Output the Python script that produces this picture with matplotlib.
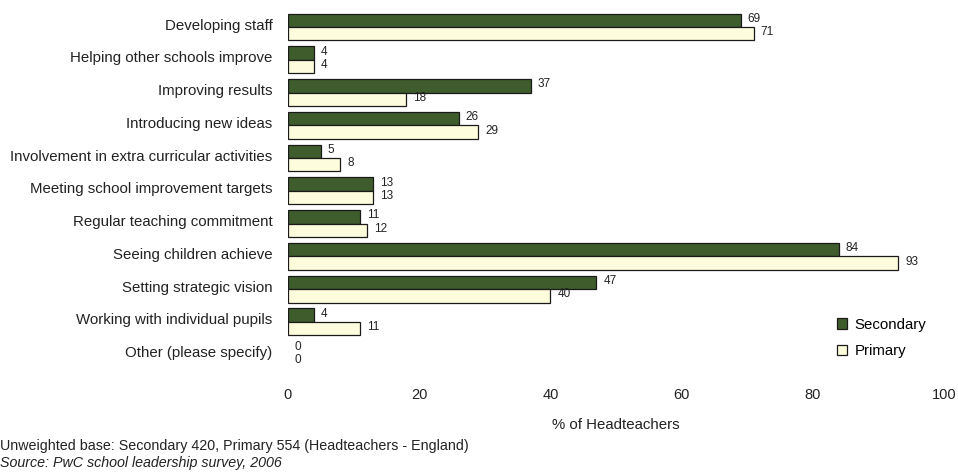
import matplotlib
matplotlib.use("Agg")
import matplotlib.pyplot as plt
import numpy as np

categories = [
    "Developing staff",
    "Helping other schools improve",
    "Improving results",
    "Introducing new ideas",
    "Involvement in extra curricular activities",
    "Meeting school improvement targets",
    "Regular teaching commitment",
    "Seeing children achieve",
    "Setting strategic vision",
    "Working with individual pupils",
    "Other (please specify)",
]
secondary = [69, 4, 37, 26, 5, 13, 11, 84, 47, 4, 0]
primary = [71, 4, 18, 29, 8, 13, 12, 93, 40, 11, 0]
xticks = [0, 20, 40, 60, 80, 100]

plt.rcParams["font.family"] = ["Liberation Sans", "DejaVu Sans"]
narrow = ["Liberation Sans Narrow", "Liberation Sans", "DejaVu Sans"]
txt = "#222222"

W, H = 958, 474
fig = plt.figure(figsize=(W / 100, H / 100), dpi=100)
ax = fig.add_axes([288 / W, 1 - 371 / H, (944 - 288) / W, (371 - 10.6) / H])

sec_color = "#3f5d2c"
pri_color = "#fdfcdc"
edge = "#1a1a1a"
h = 0.41
y = np.arange(len(categories))

b1 = ax.barh(y - h / 2, secondary, height=h, color=sec_color, edgecolor=edge,
             linewidth=[0.9 if v else 0 for v in secondary], label="Secondary")
b2 = ax.barh(y + h / 2, primary, height=h, color=pri_color, edgecolor=edge,
             linewidth=[0.9 if v else 0 for v in primary], label="Primary")

for bars, vals in ((b1, secondary), (b2, primary)):
    for rect, v in zip(bars, vals):
        ax.annotate(str(v), (v, rect.get_y() + rect.get_height() / 2),
                    xytext=(5, 1), textcoords="offset points",
                    ha="left", va="center", fontsize=8.5, color=txt)

ax.set_xlim(0, 100)
ax.set_ylim(len(categories) - 0.5, -0.5)
# category labels sit slightly above the centre of each bar pair
ax.set_yticks(y - 0.09)
ax.set_yticklabels(categories, fontsize=10.8, color=txt)
ax.set_xticks(xticks)
ax.set_xticklabels([str(t) for t in xticks], fontsize=10.5, color=txt,
                   family=narrow)
ax.tick_params(axis="both", length=0)
ax.tick_params(axis="y", pad=11)
ax.tick_params(axis="x", pad=12)
for s in ax.spines.values():
    s.set_visible(False)

ax.set_xlabel("% of Headteachers", fontsize=10.8, color=txt, labelpad=12)

ax.legend(handles=[b1, b2], loc="upper left", bbox_to_anchor=(829 / W, 1 - 310 / H),
          bbox_transform=fig.transFigure, frameon=False, fontsize=10.8,
          handlelength=0.7, handleheight=0.7, handletextpad=0.5,
          labelspacing=0.85, borderpad=0)

fig.text(0, 1 - 446 / H, "Unweighted base: Secondary 420, Primary 554 (Headteachers - England)",
         fontsize=10.3, va="center", ha="left", color=txt)
fig.text(0, 1 - 463 / H, "Source: PwC school leadership survey, 2006",
         fontsize=10.3, va="center", ha="left", style="italic", color=txt)

fig.savefig("out.png", dpi=100)
